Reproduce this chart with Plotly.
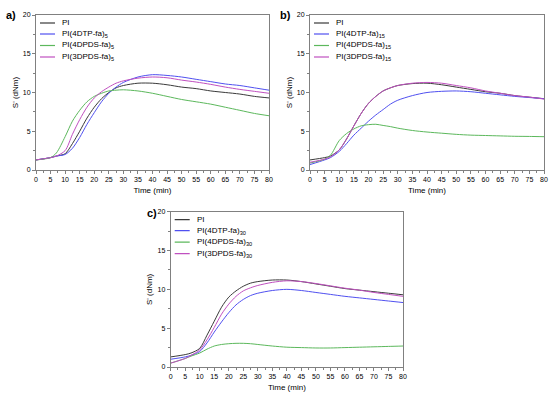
import plotly.graph_objects as go

time = [0, 5, 7, 10, 12.5, 15, 17.5, 20, 22.5, 25, 27.5, 30, 35, 40, 45, 50, 55, 60, 65, 70, 75, 80]

# Panel a (x = 5)
a_pi    = [1.3, 1.6, 1.8, 2.1, 3.4, 5.0, 6.7, 8.1, 9.2, 10.0, 10.6, 10.9, 11.2, 11.2, 11.0, 10.7, 10.5, 10.2, 10.0, 9.8, 9.5, 9.3]
a_4dtp  = [1.3, 1.6, 1.8, 2.0, 2.8, 4.2, 5.9, 7.4, 8.8, 9.9, 10.7, 11.3, 12.0, 12.3, 12.2, 12.0, 11.7, 11.4, 11.1, 10.9, 10.6, 10.3]
a_4dpds = [1.3, 1.6, 2.2, 4.3, 6.3, 7.7, 8.8, 9.5, 9.9, 10.2, 10.3, 10.35, 10.2, 9.9, 9.5, 9.1, 8.8, 8.5, 8.1, 7.7, 7.3, 7.0]
a_3dpds = [1.3, 1.6, 1.8, 2.5, 4.6, 6.5, 8.1, 9.3, 10.1, 10.7, 11.2, 11.5, 11.85, 12.0, 11.9, 11.6, 11.35, 11.05, 10.7, 10.4, 10.15, 9.9]

# Panel b (x = 15)
b_pi    = [1.3, 1.6, 1.8, 2.6, 4.0, 5.7, 7.3, 8.6, 9.5, 10.2, 10.6, 10.9, 11.15, 11.2, 11.0, 10.7, 10.4, 10.1, 9.9, 9.6, 9.4, 9.2]
b_4dtp  = [0.7, 1.3, 1.6, 2.4, 3.4, 4.5, 5.4, 6.3, 7.1, 7.8, 8.5, 9.0, 9.6, 10.0, 10.15, 10.2, 10.1, 9.9, 9.7, 9.5, 9.35, 9.2]
b_4dpds = [0.9, 1.4, 1.9, 3.8, 4.7, 5.3, 5.7, 5.85, 5.9, 5.75, 5.6, 5.4, 5.1, 4.9, 4.75, 4.6, 4.5, 4.45, 4.4, 4.35, 4.33, 4.3]
b_3dpds = [1.0, 1.4, 1.7, 2.6, 4.0, 5.7, 7.3, 8.6, 9.5, 10.2, 10.6, 10.9, 11.2, 11.3, 11.2, 10.9, 10.6, 10.2, 9.9, 9.6, 9.4, 9.15]

# Panel c (x = 30)
c_pi    = [1.3, 1.6, 1.8, 2.4, 4.1, 5.9, 7.7, 9.0, 9.8, 10.4, 10.8, 11.0, 11.2, 11.2, 11.0, 10.7, 10.4, 10.1, 9.9, 9.7, 9.5, 9.3]
c_4dtp  = [1.0, 1.3, 1.5, 2.0, 3.1, 4.5, 5.8, 7.0, 8.0, 8.7, 9.2, 9.5, 9.85, 10.0, 9.85, 9.6, 9.35, 9.1, 8.9, 8.7, 8.5, 8.3]
c_4dpds = [0.5, 1.1, 1.4, 1.8, 2.3, 2.7, 2.9, 3.0, 3.05, 3.05, 3.0, 2.9, 2.7, 2.55, 2.5, 2.45, 2.45, 2.5, 2.55, 2.6, 2.65, 2.7]
c_3dpds = [0.5, 1.1, 1.5, 2.2, 3.5, 5.1, 6.8, 8.1, 9.1, 9.8, 10.2, 10.5, 10.9, 11.1, 11.0, 10.75, 10.45, 10.15, 9.9, 9.6, 9.35, 9.1]

x_ticks = list(range(0, 85, 5))
y_ticks = [0, 5, 10, 15, 20]

colors = ["#3a3a3a", "#5050f0", "#5cb85c", "#c050c0"]
FONT = "Arial, Liberation Sans, sans-serif"

panels = [
    ("a)", "5", [a_pi, a_4dtp, a_4dpds, a_3dpds], [36, 269], [15, 170], (11, 15)),
    ("b)", "15", [b_pi, b_4dtp, b_4dpds, b_3dpds], [310, 544], [15, 170], (285, 15)),
    ("c)", "30", [c_pi, c_4dtp, c_4dpds, c_3dpds], [170.7, 403], [211.7, 367], (152, 213)),
]
legend_rows = [-8, -19, -30.5, -42]   # px below top of plot area

W, H = 550, 396
fig = go.Figure()
layout = dict(
    width=W, height=H, margin=dict(l=0, r=0, t=0, b=0),
    paper_bgcolor="white", plot_bgcolor="white",
    font=dict(family=FONT, size=7, color="black"),
    showlegend=False, annotations=[], shapes=[],
)

for i, (lab, sub, series, px, py, lpos) in enumerate(panels):
    suffix = "" if i == 0 else str(i + 1)
    xa, ya = "x" + suffix, "y" + suffix
    names = ["PI", f"PI(4DTP-fa)<sub>{sub}</sub>", f"PI(4DPDS-fa)<sub>{sub}</sub>",
             f"PI(3DPDS-fa)<sub>{sub}</sub>"]
    for name, vals, col, dy in zip(names, series, colors, legend_rows):
        fig.add_trace(go.Scatter(
            x=time, y=vals, mode="lines", name=name,
            line=dict(color=col, width=1, shape="spline", smoothing=0.8),
            xaxis=xa, yaxis=ya))
        # legend key
        layout["shapes"].append(dict(
            type="line", xref=xa, yref=ya, xsizemode="pixel", ysizemode="pixel",
            xanchor=0, yanchor=20, x0=4, x1=19, y0=dy, y1=dy,
            line=dict(color=col, width=1.2)))
        layout["annotations"].append(dict(
            text=name, xref=xa + " domain", yref=ya + " domain", x=0, y=1,
            xshift=24, yshift=dy, xanchor="left", yanchor="middle",
            showarrow=False, font=dict(size=8, family=FONT, color="black")))
    xd = [px[0] / W, px[1] / W]
    yd = [1 - py[1] / H, 1 - py[0] / H]
    minor = dict(ticks="outside", ticklen=2, tickcolor="#808080", dtick=2.5, tick0=0)
    axcommon = dict(showline=True, linecolor="#808080", linewidth=1, mirror=True,
                    ticks="outside", ticklen=3, tickcolor="#808080",
                    showgrid=False, zeroline=False, automargin=False,
                    tickfont=dict(size=7, family=FONT), minor=minor)
    layout["xaxis" + suffix] = dict(
        axcommon, domain=xd, range=[0, 80], tickvals=x_ticks, anchor=ya,
        title=dict(text="Time (min)", font=dict(size=8, family=FONT), standoff=4))
    layout["yaxis" + suffix] = dict(
        axcommon, domain=yd, range=[0, 20], tickvals=y_ticks, anchor=xa,
        title=dict(text="S' (dNm)", font=dict(size=8, family=FONT), standoff=3))
    layout["annotations"].append(dict(
        text=f"<b>{lab}</b>", x=lpos[0] / W, y=1 - lpos[1] / H, xref="paper", yref="paper",
        xanchor="center", yanchor="middle", showarrow=False,
        font=dict(size=11, family=FONT, color="black")))

fig.update_layout(**layout)
fig.write_html("out.html", config={"displayModeBar": False},
               post_script="document.body.style.margin='0';document.body.style.overflow='hidden';")
